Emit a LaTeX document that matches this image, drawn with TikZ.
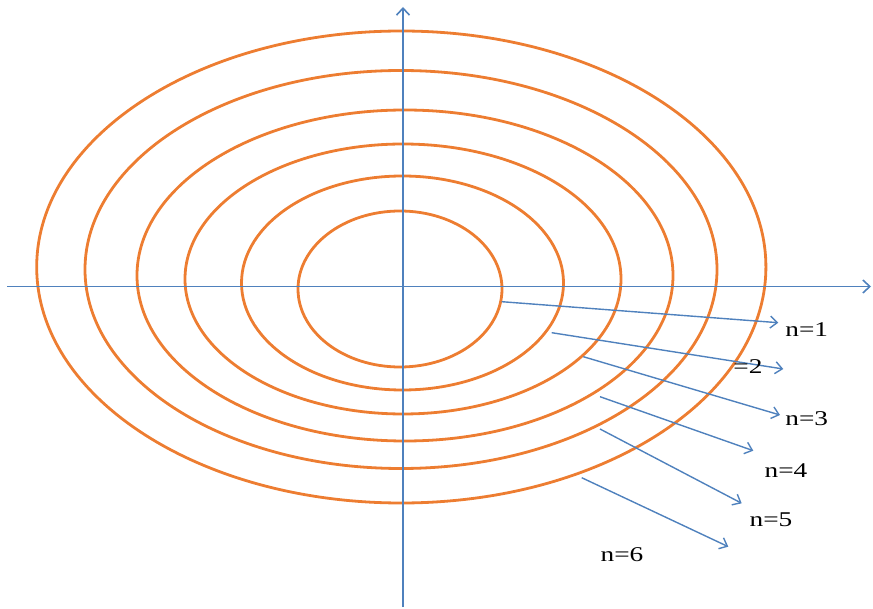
\documentclass[tikz,border=0pt]{standalone}
\usepackage{fontspec}
\setmainfont{Liberation Serif}
\usetikzlibrary{arrows.meta}
\definecolor{ringorange}{RGB}{237,125,49}
\definecolor{axisblue}{RGB}{79,129,189}
\tikzset{
  ring/.style={draw=ringorange, line width=2.8pt},
  axis/.style={draw=axisblue, line width=1.6pt, -{Straight Barb[length=7pt,width=13pt]}},
  level/.style={draw=axisblue, line width=1.4pt, -{Straight Barb[length=7pt,width=12pt]}},
  lbl/.style={font=\fontsize{21}{25}\selectfont, inner sep=0pt, xscale=1.3, transform shape}
}
\begin{document}
\begin{tikzpicture}[x=1pt,y=-1pt]
    \useasboundingbox (0,0) rectangle (873,609);

    % orbits
    \foreach \cx/\cy/\rx/\ry in {400/289/102/78, 402.5/283/161/107, 403/279/218/135,
                                 405/275.5/268/165.5, 401/269.5/316/199, 401.3/267/364.6/236}
        \draw[ring] (\cx,\cy) ellipse [x radius=\rx pt, y radius=\ry pt];

    % axes
    \coordinate (xs) at (7,286.5);
    \coordinate (xe) at (871,286.5);
    \coordinate (ys) at (403,607);
    \coordinate (ye) at (403,7);
    \draw[axis] (xs) -- (xe);
    \draw[axis] (ys) -- (ye);

    % arrows to the labels
    \foreach \i/\sx/\sy/\ex/\ey in {1/501.7/301.7/778.3/322.7, 2/551.7/332.7/783.3/369,
                                    3/583.3/356.7/780/415, 4/600/396.7/753.3/450.7,
                                    5/600/429/741.7/503.3, 6/581.7/477.7/728.3/546.7} {
        \coordinate (s\i) at (\sx,\sy);
        \coordinate (e\i) at (\ex,\ey);
        \draw[level] (s\i) -- (e\i);
    }

    \node[lbl] (n1) at (806.7,329.7) {n=1};
    \node[lbl] (n2) at (748,367) {=2};
    \node[lbl] (n3) at (806.7,419) {n=3};
    \node[lbl] (n4) at (786,471) {n=4};
    \node[lbl] (n5) at (771,520) {n=5};
    \node[lbl] (n6) at (622,555) {n=6};
\end{tikzpicture}
\end{document}
